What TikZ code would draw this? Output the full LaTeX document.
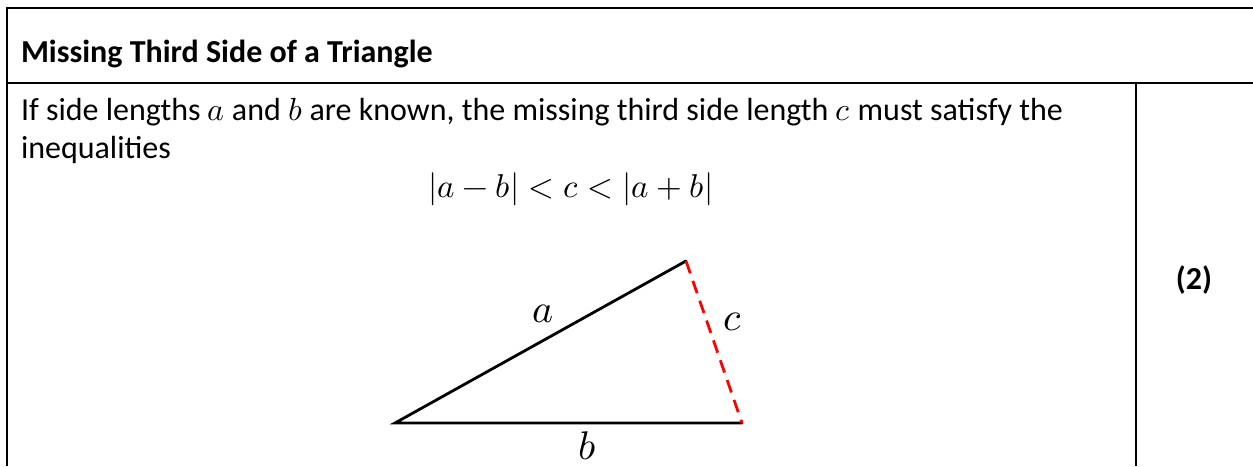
\documentclass[tikz,border=0pt]{standalone}
\usepackage{fontspec}
\usepackage{unicode-math}
\setmainfont{Carlito}
\setmathfont{Latin Modern Math}
\begin{document}
\begin{tikzpicture}[x=1pt,y=-1pt,
  rule/.style={line width=2pt,black},
  txt/.style={inner sep=0pt,outer sep=0pt,font=\fontsize{32}{39}\selectfont},
  side/.style={line width=2.8pt,black},
  missing/.style={line width=2.8pt,red,dash pattern=on 13pt off 8pt},
  lbl/.style={inner sep=0pt,font=\fontsize{40}{48}\selectfont}]
\useasboundingbox (0,0) rectangle (1253,466);
% table rules
\draw[rule] (7,466) -- (7,8) -- (1253,8);
\draw[rule] (7,83) -- (1253,83);
\draw[rule] (1136,83) -- (1136,466);
% texts
\node[txt,anchor=base west] (title) at (21,62) {\bfseries Missing Third Side of a Triangle};
\node[txt,anchor=base west] (line1) at (21,120) {If side lengths $a$ and $b$ are known, the missing third side length $c$ must satisfy the};
\node[txt,anchor=base west] (line2) at (21,158) {inequalities};
\node[txt,anchor=base,font=\fontsize{33}{40}\selectfont] (ineq) at (571,197) {$|a-b|<c<|a+b|$};
\node[txt,anchor=base] (num) at (1194,289) {\bfseries (2)};
% triangle
\coordinate (A) at (395,423);
\coordinate (B) at (742,423);
\coordinate (C) at (686,261);
\draw[side,line cap=round] (B) -- (A) -- (C);
\draw[missing] (C) -- (B);
\node[lbl] (la) at (543,314) {$a$};
\node[lbl] (lb) at (587,446) {$b$};
\node[lbl] (lc) at (733,322) {$c$};
\end{tikzpicture}
\end{document}
